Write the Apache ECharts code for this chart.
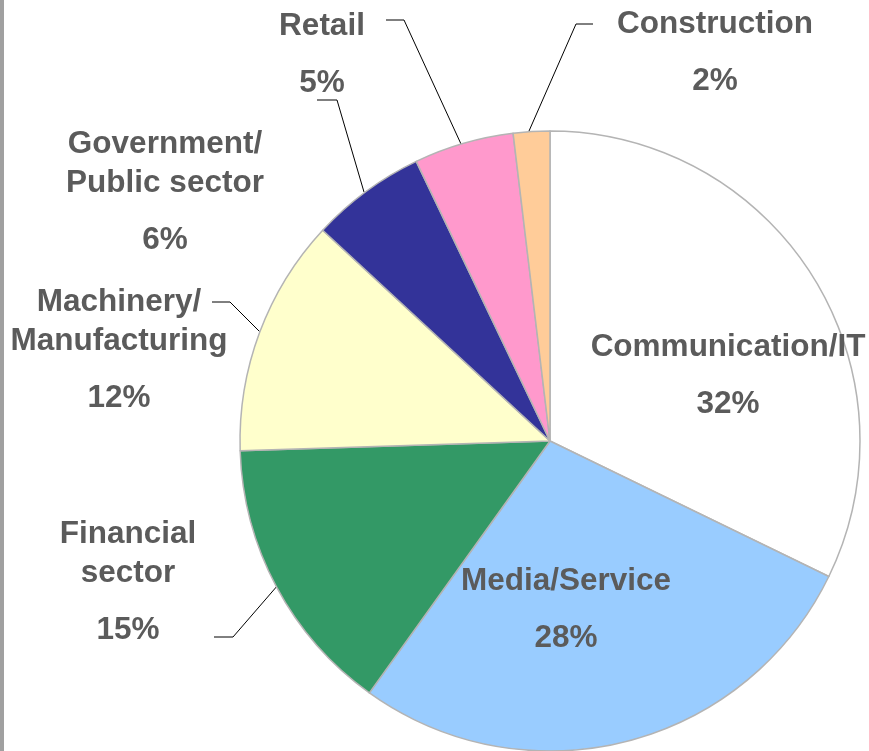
<!DOCTYPE html>
<html>
<head>
<meta charset="utf-8">
<script src="https://cdn.jsdelivr.net/npm/echarts@6/dist/echarts.min.js"></script>
<style>
html,body{margin:0;padding:0;background:#fff;}
#chart{width:869px;height:751px;}
</style>
</head>
<body>
<div id="chart"></div>
<script>
// ---- data ----
const categories = ['Communication/IT', 'Media/Service', 'Financial\nsector', 'Machinery/\nManufacturing', 'Government/\nPublic sector', 'Retail', 'Construction'];
const values = [32.2, 27.7, 14.6, 12.4, 6.0, 5.2, 1.9];

// ---- styles / label placement (not data) ----
const colors = ['#ffffff', '#99ccff', '#339966', '#ffffcc', '#333399', '#ff99cc', '#ffcc99'];
const inside = [true, true, false, false, false, false, false];
// center x, center y of first text line
const labelAnchor = [[728, 347], [566, 581], [128, 534], [119, 302], [165, 144], [322, 26], [715, 24]];
const leaderLines = [null, null,
  [[214, 637], [233, 637], [278, 585]],
  [[212, 302], [230, 302], [261, 333]],
  [[317, 100], [337, 100], [364, 192]],
  [[386, 20], [404, 20], [461, 144]],
  [[593, 24], [576, 24], [529, 131]]
];
const LINE_H = 39, PCT_H = 76;
const FONT = 'Liberation Sans, Arial, sans-serif';
const TXT = '#5b5b5b';

const chart = echarts.init(document.getElementById('chart'), null, {renderer: 'canvas'});
chart.setOption({
  animation: false,
  backgroundColor: '#ffffff',
  graphic: [{
    type: 'rect', left: 0, top: 0,
    shape: {width: 4, height: 751},
    style: {fill: '#a0a0a0'}
  }],
  series: [{
    type: 'pie',
    center: [550, 441],
    radius: [0, 310],
    startAngle: 90,
    clockwise: true,
    avoidLabelOverlap: false,
    itemStyle: {borderColor: '#b4b4b4', borderWidth: 1.5},
    labelLine: {show: true, length: 10, length2: 10, lineStyle: {color: '#000000', width: 1}},
    label: {
      fontFamily: FONT,
      fontWeight: 'bold',
      color: TXT,
      formatter: function (p) {
        const lines = p.name.split('\n').map(s => '{n|' + s + '}');
        lines.push('{p|' + Math.round(p.percent) + '%}');
        return lines.join('\n');
      },
      rich: {
        n: {fontSize: 31.5, fontWeight: 'bold', color: TXT, lineHeight: LINE_H, fontFamily: FONT, align: 'center'},
        p: {fontSize: 31.5, fontWeight: 'bold', color: TXT, lineHeight: PCT_H, fontFamily: FONT, align: 'center'}
      }
    },
    labelLayout: function (params) {
      const i = params.dataIndex;
      const a = labelAnchor[i];
      const o = {x: a[0], y: a[1] - LINE_H / 2, align: 'center', verticalAlign: 'top'};
      if (leaderLines[i]) o.labelLinePoints = leaderLines[i];
      return o;
    },
    data: categories.map((c, i) => ({
      name: c,
      value: values[i],
      itemStyle: {color: colors[i]},
      label: {position: inside[i] ? 'inside' : 'outside'},
      labelLine: {show: !inside[i]}
    }))
  }]
});
</script>
</body>
</html>
